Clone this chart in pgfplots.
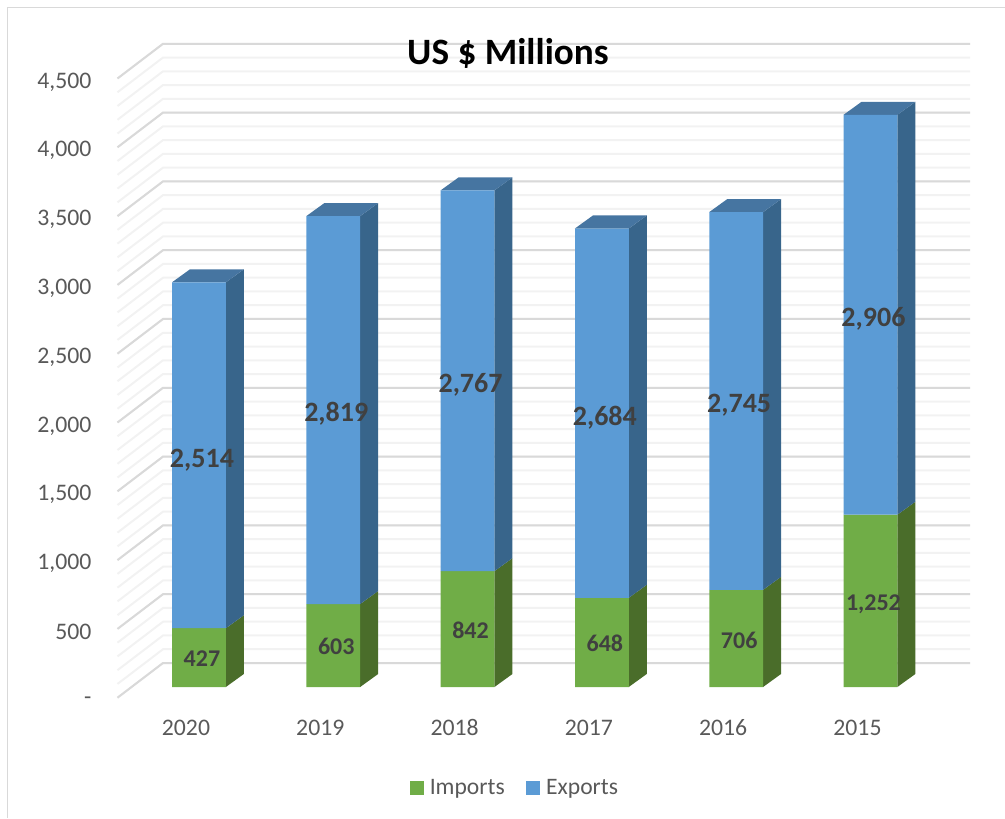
\documentclass[border=0pt]{standalone}
\usepackage{pgfplots}
\usepackage{pgfplotstable}
\usepackage{fontspec}
\setmainfont{Carlito}
\pgfplotsset{compat=1.18}
\definecolor{gmaj}{HTML}{D9D9D9}
\definecolor{gmin}{HTML}{F2F2F2}
\definecolor{blueF}{HTML}{5B9BD5}
\definecolor{blueS}{HTML}{38658B}
\definecolor{blueT}{HTML}{4675A1}
\definecolor{greenF}{HTML}{70AD47}
\definecolor{greenS}{HTML}{4A6D2A}
\definecolor{tickc}{HTML}{595959}
\definecolor{lab}{HTML}{404040}
\pgfplotstableread{
i imports exports
0 427 2514
1 603 2819
2 842 2767
3 648 2684
4 706 2745
5 1252 2906
}\tradedata
% side and top faces of one bar: centre, imports, exports
\newcommand{\barfaces}[3]{%
  \pgfmathsetmacro\rx{#1+0.2}\pgfmathsetmacro\bx{#1+0.334}\pgfmathsetmacro\lx{#1-0.201}\pgfmathsetmacro\mx{#1-0.067}%
  \pgfmathsetmacro\tot{#2+#3}\pgfmathsetmacro\impb{#2+94.6}\pgfmathsetmacro\totb{#2+#3+94.6}%
  \addplot[fill=greenS,draw=none,forget plot] coordinates {(\rx,0) (\bx,94.6) (\bx,\impb) (\rx,#2)} -- cycle;
  \addplot[fill=blueS,draw=none,forget plot] coordinates {(\rx,#2) (\bx,\impb) (\bx,\totb) (\rx,\tot)} -- cycle;
  \addplot[fill=blueT,draw=none,forget plot] coordinates {(\lx,\tot) (\rx,\tot) (\bx,\totb) (\mx,\totb)} -- cycle;
}
\newcommand{\gline}[2]{%
  \pgfmathsetmacro\gf{#1-77.8}\pgfmathsetmacro\gb{#1+174.4}%
  \addplot[#2,line width=1.5pt,forget plot] coordinates {(-0.6069,\gf) (-0.2681,\gb) (5.7409,\gb)};
}
\pgfplotsset{swatch/.style={legend image code/.code={\fill[##1] (0pt,-5.25pt) rectangle (10.5pt,5.25pt);\path (13pt,0pt);}}}
\begin{document}
\begin{tikzpicture}
\useasboundingbox (-88.125pt,-90.225pt) rectangle (665.625pt,523.275pt);
\begin{axis}[
  at={(0pt,0pt)},anchor=south west,
  scale only axis,width=639.375pt,height=490.65pt,
  xmin=-0.6069,xmax=5.7409,ymin=-77.8,ymax=4676.6,
  clip=false,
  axis line style={draw=none},
  major tick length=0pt,minor tick length=0pt,
  xtick={-0.097,0.903,1.903,2.903,3.903,4.903},
  xticklabels={2020,2019,2018,2017,2016,2015},
  ytick={-77.8,422.2,922.2,1422.2,1922.2,2422.2,2922.2,3422.2,3922.2,4422.2},
  yticklabels={-\hspace{9pt},500,{1,000},{1,500},{2,000},{2,500},{3,000},{3,500},{4,000},{4,500}},
  tick label style={font=\fontsize{17.8}{20}\selectfont,text=tickc},
  xticklabel style={yshift=-13pt,text height=12pt,text depth=0pt},
  yticklabel style={xshift=-16pt,yshift=-2.5pt},
  title={US \$ Millions},
  title style={at={(axis description cs:0.458,0.987)},anchor=center,yshift=-6.75pt,font=\fontsize{27.9}{32}\selectfont\bfseries,text=black},
  legend columns=2,
  legend style={draw=none,fill=none,at={(axis description cs:0.4666,-0.1375)},anchor=center,
    font=\fontsize{17.7}{20}\selectfont,text=tickc,/tikz/every even column/.append style={column sep=14pt}},
]
\pgfplotsinvokeforeach{0,100,...,4500}{\gline{#1}{gmin}}
\pgfplotsinvokeforeach{0,500,...,4500}{\gline{#1}{gmaj}}
\barfaces{0}{427}{2514}
\barfaces{1}{603}{2819}
\barfaces{2}{842}{2767}
\barfaces{3}{648}{2684}
\barfaces{4}{706}{2745}
\barfaces{5}{1252}{2906}
\addplot[ybar,stack plots=y,bar shift=0pt,bar width=40.3pt,fill=greenF,draw=none,swatch] table[x=i,y=imports]{\tradedata};
\addlegendentry{Imports}
\addplot[ybar,stack plots=y,bar shift=0pt,bar width=40.3pt,fill=blueF,draw=none,swatch] table[x=i,y=exports]{\tradedata};
\addlegendentry{Exports}
\addplot[draw=none,mark=none,forget plot,stack plots=false,point meta=explicit symbolic,nodes near coords,
  nodes near coords style={anchor=center,font=\fontsize{18}{20}\selectfont\bfseries,text=lab}]
  coordinates {(0.022,205)[427] (1.022,293)[603] (2.022,410)[842] (3.022,314)[648] (4.022,337)[706] (5.022,600)[{1,252}]};
\addplot[draw=none,mark=none,forget plot,stack plots=false,point meta=explicit symbolic,nodes near coords,
  nodes near coords style={anchor=center,font=\fontsize{21}{24}\selectfont\bfseries,text=lab}]
  coordinates {(0.022,1650)[{2,514}] (1.022,1985)[{2,819}] (2.022,2195)[{2,767}] (3.022,1955)[{2,684}] (4.022,2050)[{2,745}] (5.022,2675)[{2,906}]};
\end{axis}
\draw[gmaj,line width=1.1pt] (-82.5pt,-90.225pt) -- (-82.5pt,517.65pt) -- (665.625pt,517.65pt);
\end{tikzpicture}
\end{document}
